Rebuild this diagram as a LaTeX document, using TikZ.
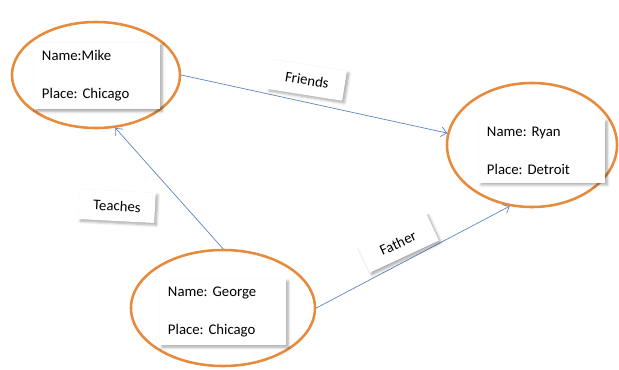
\documentclass[tikz,border=0pt]{standalone}
\usepackage{fontspec}
\setmainfont{Carlito}
\usepackage{tikz}
\usetikzlibrary{shapes.geometric, arrows.meta, shadows.blur}
\definecolor{ringorange}{RGB}{230,138,60}
\definecolor{linkblue}{RGB}{92,134,194}
\frenchspacing

\begin{document}
\begin{tikzpicture}[x=0.025cm, y=-0.025cm,
    person/.style={ellipse, draw=ringorange, line width=1.8pt, inner sep=0pt},
    info/.style={fill=white, blur shadow={shadow xshift=1.5pt, shadow yshift=-1.5pt, shadow blur steps=6, shadow opacity=35},
                 align=left, text width=2.75cm, inner xsep=0.2cm, inner ysep=0.2cm,
                 font=\fontsize{10.5}{12}\selectfont},
    tag/.style={fill=white, blur shadow={shadow xshift=1.5pt, shadow yshift=-1.5pt, shadow blur steps=6, shadow opacity=35},
                minimum width=1.9cm, minimum height=0.75cm, font=\fontsize{10.5}{12}\selectfont},
    link/.style={draw=linkblue, line width=0.5pt, -{Straight Barb[length=4pt, width=7pt]}}
]
    \useasboundingbox (0,0) rectangle (619,369);

    % people
    \node[person, minimum width=4.2cm, minimum height=2.65cm] (mike) at (96,75) {};
    \node[person, minimum width=4.25cm, minimum height=3.1cm] (ryan) at (532,145) {};
    \node[person, minimum width=4.6cm, minimum height=2.9cm] (george) at (223,308) {};

    \node[info] (mikeinfo) at (97,76) {Name:Mike\\[15pt]Place: Chicago};
    \node[info] (ryaninfo) at (542,151) {Name: Ryan\\[15pt]Place: Detroit};
    \node[info] (georgeinfo) at (223,312) {Name: George\\[15pt]Place: Chicago};

    % relations
    \draw[link] (mike.east) -- (ryan.172);
    \draw[link] (george.north) -- (mike.-70);
    \draw[link] (george.east) -- (ryan.250);

    \node[tag, rotate=-9] (friends) at (307,80) {Friends};
    \node[tag, rotate=-3] (teaches) at (117,206) {Teaches};
    \node[tag, rotate=25] (father) at (398,243) {Father};
\end{tikzpicture}
\end{document}
